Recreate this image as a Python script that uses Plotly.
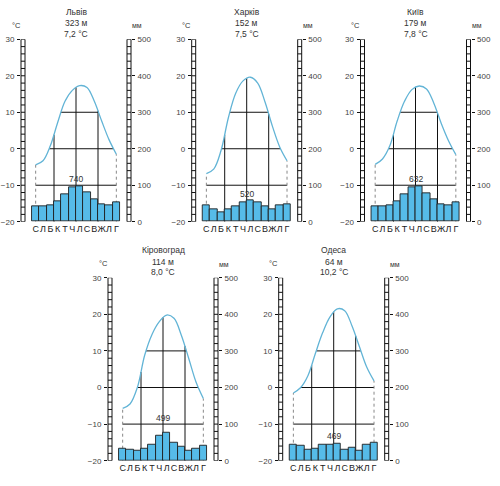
import numpy as np
import plotly.graph_objects as go

# ---------------- data ----------------
months = ["С", "Л", "Б", "К", "Т", "Ч", "Л", "С", "В", "Ж", "Л", "Г"]
stations = ["Львів", "Харків", "Київ", "Кіровоград", "Одеса"]
elevations = ["323 м", "152 м", "179 м", "114 м", "64 м"]
mean_temps = ["7,2 °C", "7,5 °C", "7,8 °C", "8,0 °C", "10,2 °C"]
annual_precip = ["740", "520", "632", "499", "469"]

temp_lviv = [-4.4, -3.3, 0.8, 7.2, 13.0, 16.0, 17.3, 16.8, 13.0, 7.6, 2.5, -1.5]
temp_kharkiv = [-6.8, -5.6, -0.5, 8.5, 15.2, 18.6, 19.6, 18.0, 12.8, 6.2, 0.5, -3.3]
temp_kyiv = [-4.3, -2.8, 0.8, 7.6, 13.0, 16.2, 17.2, 16.4, 12.5, 7.0, 2.2, -1.6]
temp_kirovohrad = [-5.7, -4.5, 0.0, 8.8, 14.5, 18.0, 19.8, 18.9, 14.3, 8.0, 1.5, -3.0]
temp_odesa = [-1.5, 0.0, 3.3, 9.3, 15.0, 19.3, 21.5, 21.0, 16.8, 11.2, 5.6, 1.8]

prec_lviv = [42, 42, 45, 56, 75, 94, 97, 80, 62, 49, 46, 52]
prec_kharkiv = [46, 34, 27, 35, 43, 54, 58, 53, 43, 34, 45, 48]
prec_kyiv = [43, 41, 44, 56, 75, 93, 97, 78, 61, 48, 45, 52]
prec_kirovohrad = [32, 29, 26, 34, 45, 67, 77, 50, 37, 26, 34, 42]
prec_odesa = [44, 42, 29, 32, 44, 44, 47, 31, 35, 28, 44, 49]

temps = [temp_lviv, temp_kharkiv, temp_kyiv, temp_kirovohrad, temp_odesa]
precs = [prec_lviv, prec_kharkiv, prec_kyiv, prec_kirovohrad, prec_odesa]

temp_ticks = [-20, -10, 0, 10, 20, 30]
prec_ticks = [0, 100, 200, 300, 400, 500]

# ---------------- layout geometry (pixels) ----------------
W, H = 500, 486
panel_left = [21, 191.7, 360.5, 108, 278.7]
panel_top = [39.3, 39.3, 39.3, 277.7, 277.7]
panel_bottom = [221.7, 221.7, 221.7, 460.7, 460.7]
panel_w = 110.0
XR = [-1.0, 14.0]
ladder_w = 4.0 / panel_w

BAR_FILL = "#56bbe8"
BAR_LINE = "#1e1e1e"
CURVE = "#62b4d6"
FONT = "Liberation Sans Narrow, Arial Narrow, Liberation Sans, Arial, sans-serif"


def spline_samples(xp, yp, smooth=1.0, n=60):
    """Sample the curve the way plotly draws line_shape='spline'."""
    pts = np.column_stack([xp, yp]).astype(float)

    def tangent(a, b, c):
        d1 = a - b
        d2 = c - b
        d1a = (d1 @ d1) ** 0.25
        d2a = (d2 @ d2) ** 0.25
        num = (d2a * d2a * d1 - d1a * d1a * d2) * smooth
        den1 = 3 * d2a * (d1a + d2a)
        den2 = 3 * d1a * (d1a + d2a)
        return b + num / den1, b - num / den2

    tans = [tangent(pts[i - 1], pts[i], pts[i + 1]) for i in range(1, len(pts) - 1)]
    t = np.linspace(0, 1, n)[:, None]
    out = []
    p0, c, p1 = pts[0], tans[0][0], pts[1]
    out.append((1 - t) ** 2 * p0 + 2 * (1 - t) * t * c + t ** 2 * p1)
    for i in range(2, len(pts) - 1):
        p0, c1, c2, p1 = pts[i - 1], tans[i - 2][1], tans[i - 1][0], pts[i]
        out.append((1 - t) ** 3 * p0 + 3 * (1 - t) ** 2 * t * c1 + 3 * (1 - t) * t ** 2 * c2 + t ** 3 * p1)
    p0, c, p1 = pts[-2], tans[-1][1], pts[-1]
    out.append((1 - t) ** 2 * p0 + 2 * (1 - t) * t * c + t ** 2 * p1)
    return np.vstack(out)


fig = go.Figure()
shapes = []
annotations = []
layout = {}

for p in range(5):
    xid = "x" if p == 0 else f"x{p + 1}"
    tid = "y" if p == 0 else f"y{2 * p + 1}"
    pid = f"y{2 * p + 2}"
    xkey = "xaxis" if p == 0 else f"xaxis{p + 1}"
    tkey = "yaxis" if p == 0 else f"yaxis{2 * p + 1}"
    pkey = f"yaxis{2 * p + 2}"

    L = panel_left[p]
    top, bot = panel_top[p], panel_bottom[p]
    ph = bot - top
    xdom = [L / W, (L + panel_w) / W]
    ydom = [1 - bot / H, 1 - top / H]

    T = np.array(temps[p], dtype=float)
    P = precs[p]
    mx = np.arange(1, 13)

    sx = panel_w / (XR[1] - XR[0])
    sy = ph / 50.0
    s = spline_samples(mx * sx, -T * sy)
    cx = s[:, 0] / sx
    cy = -s[:, 1] / sy
    order = np.argsort(cx)
    cx, cy = cx[order], cy[order]

    def value_at(x):
        return float(np.interp(x, cx, cy))

    gx, gy = [], []
    for lvl in (-10, 0, 10):
        above = cy > lvl
        if not above.any():
            continue
        idx = np.where(above)[0]
        i0, i1 = idx[0], idx[-1]
        if i0 > 0:
            xa = np.interp(lvl, [cy[i0 - 1], cy[i0]], [cx[i0 - 1], cx[i0]])
        else:
            xa = cx[0]
        if i1 < len(cx) - 1:
            xb = np.interp(lvl, [cy[i1 + 1], cy[i1]], [cx[i1 + 1], cx[i1]])
        else:
            xb = cx[-1]
        gx += [xa, xb, None]
        gy += [lvl, lvl, None]
    for xv in (3.5, 6.5, 9.5):
        gx += [xv, xv, None]
        gy += [-20, value_at(xv), None]

    fig.add_trace(go.Scatter(x=gx, y=gy, mode="lines", xaxis=xid, yaxis=tid,
                             line=dict(color="#111111", width=1), hoverinfo="skip",
                             showlegend=False))
    fig.add_trace(go.Scatter(x=[1, 1, None, 12, 12], y=[-20, T[0], None, -20, T[-1]],
                             mode="lines", xaxis=xid, yaxis=tid,
                             line=dict(color="#888888", width=1, dash="dot"),
                             hoverinfo="skip", showlegend=False))
    fig.add_trace(go.Scatter(x=mx, y=T, mode="lines", xaxis=xid, yaxis=tid,
                             line=dict(color=CURVE, width=1.3, shape="spline"),
                             hoverinfo="skip", showlegend=False))
    fig.add_trace(go.Bar(x=mx, y=P, width=1.0, xaxis=xid, yaxis=pid,
                         marker=dict(color=BAR_FILL, line=dict(color=BAR_LINE, width=0.9)),
                         hoverinfo="skip", showlegend=False))

    tick_font = dict(family=FONT, size=8, color="#444444")
    layout[xkey] = dict(domain=xdom, anchor=tid, range=XR, showgrid=False, zeroline=False,
                        showline=False, ticks="", tickvals=list(mx), ticktext=months,
                        tickangle=0, automargin=False,
                        tickfont=dict(family=FONT, size=9, color="#222222"),
                        ticklabelstandoff=0, fixedrange=True)
    layout[tkey] = dict(domain=ydom, anchor=xid, range=[-20, 30], showgrid=False,
                        zeroline=False, showline=False, ticks="outside", ticklen=3,
                        tickwidth=1, tickcolor="#111111", tickvals=temp_ticks,
                        automargin=False,
                        tickfont=tick_font, ticklabelstandoff=1, fixedrange=True)
    layout[pkey] = dict(overlaying=tid, anchor=xid, side="right", range=[0, 500],
                        showgrid=False, zeroline=False, showline=False, ticks="outside",
                        ticklen=3, tickwidth=1, tickcolor="#111111", tickvals=prec_ticks,
                        automargin=False,
                        tickfont=tick_font, ticklabelstandoff=1, fixedrange=True)

    dref = f"{xid} domain"
    for x0 in (0.0, 1.0 - ladder_w):
        for xv in (x0, x0 + ladder_w):
            shapes.append(dict(type="line", xref=dref, yref=tid, x0=xv, x1=xv, y0=-20, y1=30,
                               line=dict(color="#111111", width=1)))
        for yv in range(-20, 31, 2):
            shapes.append(dict(type="line", xref=dref, yref=tid, x0=x0, x1=x0 + ladder_w,
                               y0=yv, y1=yv, line=dict(color="#111111", width=1)))

    cxp = (L + panel_w / 2) / W
    for txt, dy in zip([stations[p], elevations[p], mean_temps[p]], [27.6, 16.2, 5.4]):
        annotations.append(dict(x=cxp, y=1 - (top - dy) / H, xref="paper", yref="paper",
                                text=txt, showarrow=False, xanchor="center", yanchor="middle",
                                font=dict(family=FONT, size=8.5, color="#333333")))
    annotations.append(dict(x=(L - 5) / W, y=1 - (top - 14.3) / H, xref="paper", yref="paper",
                            text="°C", showarrow=False, xanchor="center", yanchor="middle",
                            font=dict(family=FONT, size=7.5, color="#333333")))
    annotations.append(dict(x=(L + panel_w + 6) / W, y=1 - (top - 13.5) / H, xref="paper",
                            yref="paper", text="мм", showarrow=False, xanchor="center",
                            yanchor="middle", font=dict(family=FONT, size=7, color="#333333")))
    m = max(P)
    ylab = m + 18 if m + 18 < 90 else 117
    annotations.append(dict(x=6.5, y=ylab, xref=xid, yref=pid, text=annual_precip[p],
                            showarrow=False, xanchor="center", yanchor="middle",
                            font=dict(family=FONT, size=8.5, color="#333333")))

fig.update_layout(width=W, height=H, margin=dict(l=0, r=0, t=0, b=0, autoexpand=False),
                  paper_bgcolor="white", plot_bgcolor="rgba(0,0,0,0)",
                  shapes=shapes, annotations=annotations, bargap=0, showlegend=False,
                  **layout)

fig.write_html("out.html", config={"displayModeBar": False},
               post_script="document.body.style.margin='0';")
